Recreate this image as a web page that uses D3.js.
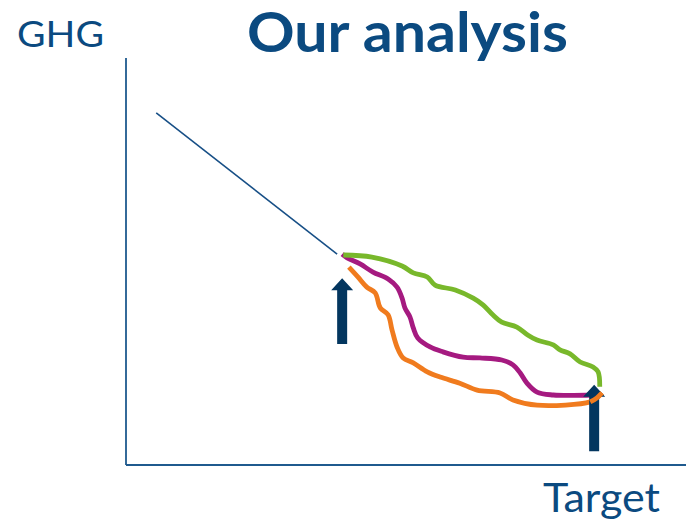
<!doctype html>
<meta charset="utf-8">
<title>Our analysis</title>
<script src="https://cdn.jsdelivr.net/npm/d3@7"></script>
<style>
body { margin: 0; background: #fff; }
svg { display: block; }
text { font-family: Lato, "Open Sans", sans-serif; fill: #0b4a80; }
</style>
<svg id="chart" width="686" height="520"></svg>
<script>
// x: time (0..100), y: GHG (0..100)
var pastX = [5.4, 37.7];
var pastY = [86.5, 51.8];

var greenX = [38.8, 43.9, 49.3, 51.3, 53.8, 55.2, 58.8, 62.0, 63.8, 65.5, 67.1, 69.8, 71.8, 73.4, 76.3, 77.5, 79.3, 81.1, 83.4, 84.3, 84.6];
var greenY = [51.6, 51.1, 48.9, 47.2, 46.2, 44.2, 43.0, 41.0, 39.3, 36.9, 35.1, 33.9, 31.9, 30.7, 29.5, 28.3, 27.3, 25.3, 24.1, 22.9, 19.2];

var purpleX = [38.6, 39.5, 41.8, 44.1, 46.8, 48.4, 49.3, 49.8, 50.7, 51.3, 52.1, 54.3, 56.6, 60.2, 63.2, 67.1, 69.1, 70.4, 71.6, 73.4, 76.3, 83.4];
var purpleY = [51.8, 50.9, 49.4, 47.4, 45.7, 43.7, 41.0, 38.6, 36.4, 33.7, 31.2, 29.0, 27.8, 26.5, 26.3, 25.8, 24.6, 22.6, 20.1, 17.9, 17.2, 17.2];

var orangeX = [39.8, 41.4, 43.0, 44.5, 45.4, 46.8, 47.5, 48.4, 49.5, 51.3, 53.8, 56.1, 59.6, 62.7, 66.8, 69.1, 73.4, 82.9, 84.1, 85.0];
var orangeY = [48.6, 46.2, 43.7, 42.3, 38.6, 36.9, 33.2, 29.0, 26.3, 25.1, 22.9, 21.6, 20.1, 18.4, 17.7, 16.0, 14.7, 15.5, 16.5, 17.7];

// arrows: x, bottom, top
var arrowX = [38.6, 83.6];
var arrowBottom = [29.7, 3.4];
var arrowTop = [45.9, 19.7];

var svg = d3.select("#chart");

var x = d3.scaleLinear().domain([0, 100]).range([126, 686]);
var y = d3.scaleLinear().domain([0, 100]).range([465, 58]);

// axes
svg.append("line")
  .attr("x1", x(0)).attr("y1", y(100)).attr("x2", x(0)).attr("y2", y(0))
  .attr("stroke", "#1f5a8e").attr("stroke-width", 1.8);
svg.append("line")
  .attr("x1", x(0)).attr("y1", y(0)).attr("x2", x(100)).attr("y2", y(0))
  .attr("stroke", "#1f5a8e").attr("stroke-width", 1.8);

var line = d3.line()
  .x(function(d) { return x(d[0]); })
  .y(function(d) { return y(d[1]); });

svg.append("path")
  .attr("d", line(d3.zip(pastX, pastY)))
  .attr("fill", "none")
  .attr("stroke", "#174f86")
  .attr("stroke-width", 1.6);

var smooth = d3.line()
  .x(function(d) { return x(d[0]); })
  .y(function(d) { return y(d[1]); })
  .curve(d3.curveCatmullRom.alpha(0.5));

function drawArrow(i) {
  var cx = x(arrowX[i]), yb = y(arrowBottom[i]), yt = y(arrowTop[i]);
  var sw = 5, hw = 11, hh = 12;
  var p = d3.path();
  p.moveTo(cx - sw, yb);
  p.lineTo(cx - sw, yt + hh);
  p.lineTo(cx - hw, yt + hh);
  p.lineTo(cx, yt);
  p.lineTo(cx + hw, yt + hh);
  p.lineTo(cx + sw, yt + hh);
  p.lineTo(cx + sw, yb);
  p.closePath();
  svg.append("path").attr("d", p.toString()).attr("fill", "#03365f");
}

drawArrow(0);

function series(xs, ys, colour) {
  svg.append("path")
    .attr("d", smooth(d3.zip(xs, ys)))
    .attr("fill", "none")
    .attr("stroke", colour)
    .attr("stroke-width", 4.8)
    .attr("stroke-linejoin", "round");
}

series(orangeX, orangeY, "#f07b1e");
series(purpleX, purpleY, "#a51a80");
series(greenX, greenY, "#78b82b");

drawArrow(1);
// the orange end sits over the second arrow
series(orangeX.slice(-3), orangeY.slice(-3), "#f07b1e");

// texts
svg.append("text")
  .attr("x", 17).attr("y", 47)
  .attr("font-size", 37)
  .attr("textLength", 87).attr("lengthAdjust", "spacingAndGlyphs")
  .text("GHG");

svg.append("text")
  .attr("x", 247).attr("y", 52)
  .attr("font-size", 55).attr("font-weight", "bold")
  .attr("textLength", 321).attr("lengthAdjust", "spacingAndGlyphs")
  .text("Our analysis");

svg.append("text")
  .attr("x", 543).attr("y", 512)
  .attr("font-size", 41)
  .attr("textLength", 117).attr("lengthAdjust", "spacingAndGlyphs")
  .text("Target");
</script>
